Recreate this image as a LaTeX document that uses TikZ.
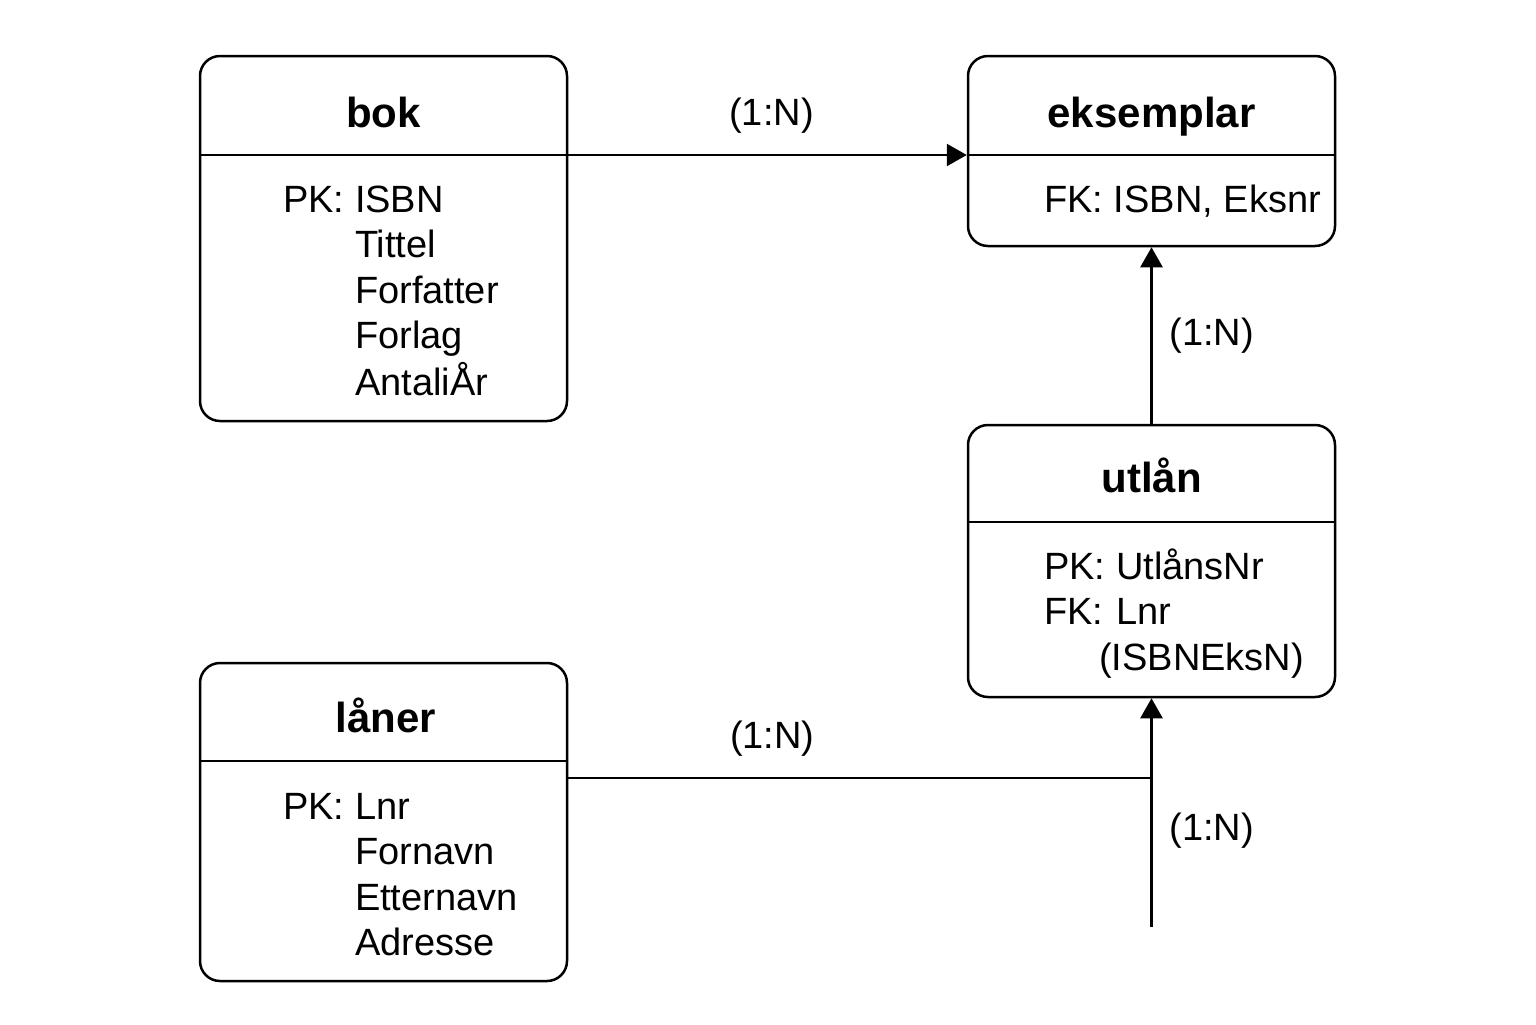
\documentclass[tikz,border=0pt]{standalone}
\usepackage{fontspec}
\setmainfont{Liberation Sans}
\usetikzlibrary{arrows.meta, positioning}

\begin{document}
\begin{tikzpicture}[x=0.5pt, y=-0.5pt, line width=1.25pt,
  entity/.style={draw, rounded corners=10pt, minimum width=183.5pt, inner sep=0pt},
  title/.style={font=\fontsize{21}{25}\selectfont\bfseries, anchor=base},
  attrs/.style={font=\fontsize{19}{22.75}\selectfont, anchor=base west, inner sep=0pt},
  card/.style={font=\fontsize{19}{22}\selectfont},
  rel/.style={-{Triangle[length=10pt, width=11pt]}}]

\useasboundingbox (0,0) rectangle (1536,1024);

% tables
\node[entity, minimum height=182.5pt] (bok) at (383.5,238.5) {};
\node[entity, minimum height=95pt] (eksemplar) at (1151.5,151) {};
\node[entity, minimum height=136pt] (utlan) at (1151.5,561) {};
\node[entity, minimum height=159pt] (laner) at (383.5,822) {};

\draw (bok.west |- 0,155) -- (bok.east |- 0,155);
\draw (eksemplar.west |- 0,155) -- (eksemplar.east |- 0,155);
\draw (utlan.west |- 0,522) -- (utlan.east |- 0,522);
\draw (laner.west |- 0,761) -- (laner.east |- 0,761);

\node[title] (bok-t) at (383.5,127) {bok};
\node[title] (eksemplar-t) at (1151.5,127) {eksemplar};
\node[title] (utlan-t) at (1151.5,492) {utlån};
\node[title] (laner-t) at (386,732) {låner};

\node[attrs] (bok-a) at (282,212) {\begin{tabular}[t]{@{}l@{}l@{}}
  PK:~ & ISBN\\ & Tittel\\ & Forfatter\\ & Forlag\\ & AntaliÅr
\end{tabular}};
\node[attrs] (eksemplar-a) at (1043,212) {FK: ISBN, Eksnr};
\node[attrs] (utlan-a) at (1043,579) {\begin{tabular}[t]{@{}l@{}l@{}}
  PK:~ & UtlånsNr\\ FK:~ & Lnr\\
  \multicolumn{2}{@{}l@{}}{\hspace*{27.5pt}(ISBNEksN)}
\end{tabular}};
\node[attrs] (laner-a) at (282,819) {\begin{tabular}[t]{@{}l@{}l@{}}
  PK:~ & Lnr\\ & Fornavn\\ & Etternavn\\ & Adresse
\end{tabular}};

% relations
\coordinate (bok-r) at (bok.east |- 0,155);
\coordinate (eksemplar-l) at (eksemplar.west |- 0,155);
\coordinate (laner-r) at (laner.east |- 0,778);
\coordinate (join) at (utlan.south |- laner-r);
\coordinate (tail) at (utlan.south |- 0,927);

\draw[rel] (bok-r) -- node[card, pos=0.51, above=7pt] {(1:N)} (eksemplar-l);
\draw[rel] (utlan.north) -- node[card, right=5pt] {(1:N)} (eksemplar.south);
\draw (laner-r) -- node[card, pos=0.35, above=7pt] {(1:N)} (join);
\draw[rel] (tail) -- node[card, pos=0.42, right=5pt] {(1:N)} (utlan.south);

\end{tikzpicture}
\end{document}
